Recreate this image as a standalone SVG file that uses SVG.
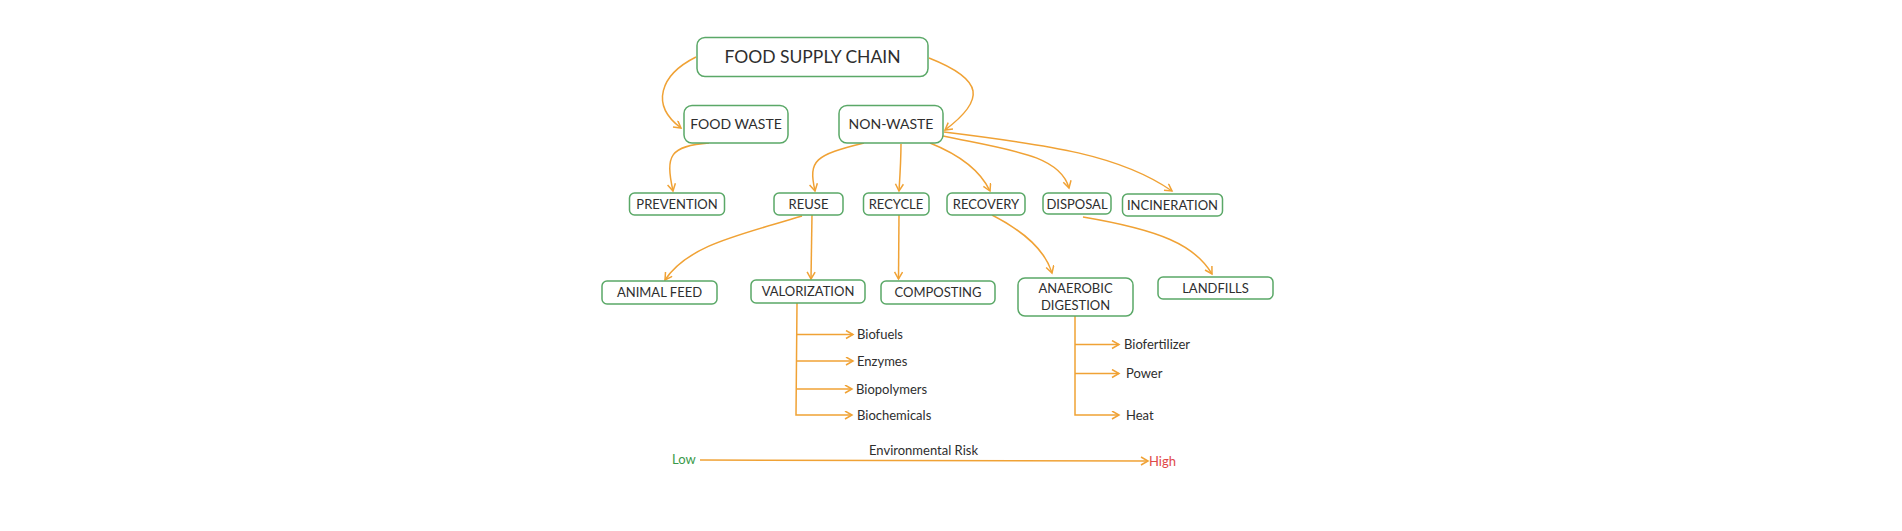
<svg xmlns="http://www.w3.org/2000/svg" width="1902" height="531" viewBox="0 0 1902 531">
<style>
.box{fill:#ffffff;stroke:#5aa867;stroke-width:1.5}
.lbl{font-family:Lato,"Open Sans","Liberation Sans",sans-serif;fill:#2e2e2e;text-anchor:middle;font-size:13px}
.leaf{font-family:Lato,"Open Sans","Liberation Sans",sans-serif;fill:#2e2e2e;font-size:13px}
.c{fill:none;stroke:#f0a235;stroke-width:1.5;marker-end:url(#ah)}
.t{fill:none;stroke:#f0a235;stroke-width:1.5}
</style>
<defs>
<marker id="ah" markerWidth="12" markerHeight="12" refX="8" refY="4.5" orient="auto" markerUnits="userSpaceOnUse"><path d="M1,0.5 L8,4.5 L1,8.5" fill="none" stroke="#f0a235" stroke-width="1.5"/></marker>
</defs>
<rect width="1902" height="531" fill="#ffffff"/>
<g id="connectors">
<path class="c" d="M696,57 C660,75 650,105 681,128"/>
<path class="c" d="M929,58 C985,80 985,100 945,130"/>
<path class="c" d="M709,143 C670,146 665,155 673,191"/>
<path class="c" d="M864,143 C815,155 808,160 815,191"/>
<path class="c" d="M901,144 C901,160 900,175 899,191"/>
<path class="c" d="M930,143 C960,155 980,170 990,191"/>
<path class="c" d="M943,136 C1010,150 1060,155 1069,188"/>
<path class="c" d="M944,132 C1050,145 1120,155 1172,191"/>
<path class="c" d="M802,216 C740,235 688,245 665,280"/>
<path class="c" d="M812,215 L811,279"/>
<path class="c" d="M899,215 L898.5,279"/>
<path class="c" d="M992,215 C1025,232 1045,250 1052,273"/>
<path class="c" d="M1083,217 C1160,230 1195,245 1212,274"/>
<path class="c" d="M797,303 L796,415 L852,415"/>
<path class="c" d="M797,334.5 L853,334.5"/>
<path class="c" d="M797,361 L853,361"/>
<path class="c" d="M797,389 L852,389"/>
<path class="c" d="M1075,316 L1075,415 L1119,415"/>
<path class="c" d="M1075,344.5 L1119,344.5"/>
<path class="c" d="M1075,373.5 L1119,373.5"/>
<path class="c" d="M700,460 L1148,461"/>
</g>
<g id="food-supply-chain"><rect class="box" x="697" y="37.5" width="231" height="39" rx="8"/><text class="lbl" x="812.5" y="62.5" style="font-size:17.5px">FOOD SUPPLY CHAIN</text></g>
<g id="food-waste"><rect class="box" x="684" y="105.5" width="104" height="37.5" rx="8"/><text class="lbl" x="736" y="129.3" style="font-size:14px">FOOD WASTE</text></g>
<g id="non-waste"><rect class="box" x="839" y="105.5" width="104" height="37.5" rx="8"/><text class="lbl" x="891" y="129.3" style="font-size:14px">NON-WASTE</text></g>
<g id="prevention"><rect class="box" x="629.5" y="193" width="95" height="22" rx="5"/><text class="lbl" x="677" y="208.5">PREVENTION</text></g>
<g id="reuse"><rect class="box" x="774" y="193" width="69" height="22" rx="5"/><text class="lbl" x="808.5" y="208.5">REUSE</text></g>
<g id="recycle"><rect class="box" x="863.5" y="193" width="65.5" height="22" rx="5"/><text class="lbl" x="896" y="208.5">RECYCLE</text></g>
<g id="recovery"><rect class="box" x="947" y="193" width="78" height="22" rx="5"/><text class="lbl" x="986" y="208.5">RECOVERY</text></g>
<g id="disposal"><rect class="box" x="1043" y="193" width="68" height="21" rx="5"/><text class="lbl" x="1077" y="208.5">DISPOSAL</text></g>
<g id="incineration"><rect class="box" x="1122.5" y="194" width="100" height="22" rx="5"/><text class="lbl" x="1172.5" y="210">INCINERATION</text></g>
<g id="animal-feed"><rect class="box" x="602" y="281" width="115" height="23" rx="5"/><text class="lbl" x="659.5" y="297">ANIMAL FEED</text></g>
<g id="valorization"><rect class="box" x="751" y="280" width="114" height="23" rx="5"/><text class="lbl" x="808" y="296">VALORIZATION</text></g>
<g id="composting"><rect class="box" x="881" y="281" width="114" height="23" rx="5"/><text class="lbl" x="938" y="297">COMPOSTING</text></g>
<g id="anaerobic-digestion"><rect class="box" x="1018" y="278" width="115" height="38" rx="7"/><text class="lbl" x="1075.5" y="293">ANAEROBIC</text><text class="lbl" x="1075.5" y="310">DIGESTION</text></g>
<g id="landfills"><rect class="box" x="1158" y="277" width="115" height="22" rx="5"/><text class="lbl" x="1215.5" y="293">LANDFILLS</text></g>
<g id="leaves">
<text class="leaf" x="857" y="339">Biofuels</text>
<text class="leaf" x="857" y="366">Enzymes</text>
<text class="leaf" x="856" y="393.5">Biopolymers</text>
<text class="leaf" x="857" y="420">Biochemicals</text>
<text class="leaf" x="1124" y="348.5">Biofertilizer</text>
<text class="leaf" x="1126" y="378">Power</text>
<text class="leaf" x="1126" y="419.5">Heat</text>
</g>
<g id="risk-scale">
<text class="leaf" x="672" y="464" style="fill:#3a9a4a">Low</text>
<text class="leaf" x="869" y="455">Environmental Risk</text>
<text class="leaf" x="1149" y="466" style="fill:#e04848">High</text>
</g>
</svg>
